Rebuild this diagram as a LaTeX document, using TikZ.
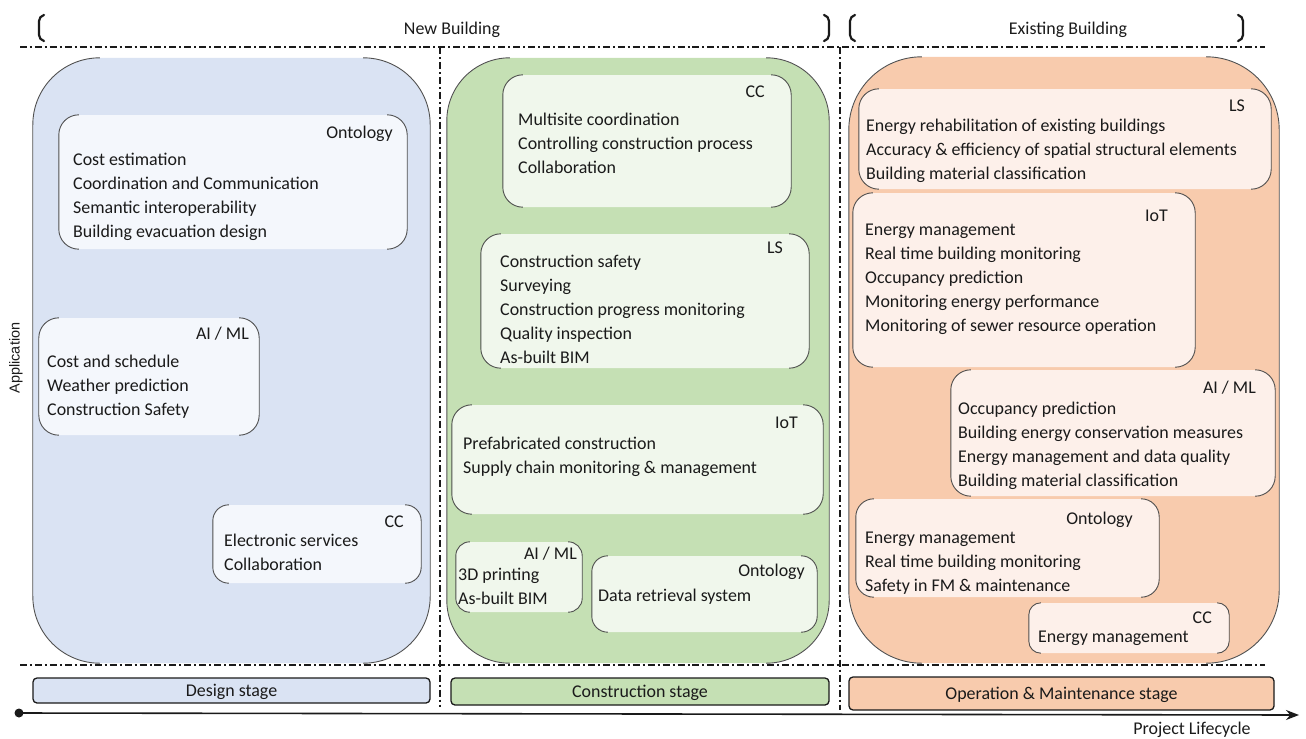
\documentclass[tikz,border=0pt]{standalone}
\usepackage{fontspec}
\setmainfont{Carlito}
\newfontfamily\appfont{Liberation Sans}
\usetikzlibrary{fit,arrows.meta}
\definecolor{bluebg}{HTML}{DAE3F3}
\definecolor{bluein}{HTML}{F4F7FC}
\definecolor{greenbg}{HTML}{C5E0B4}
\definecolor{greenin}{HTML}{F0F7EC}
\definecolor{orangebg}{HTML}{F8CBAD}
\definecolor{orangein}{HTML}{FDF0EA}
\definecolor{ink}{HTML}{1A1A1A}
\definecolor{edge}{HTML}{505050}
\tikzset{
  txt/.style={inner sep=0pt, font=\fontsize{18}{21}\selectfont, text=ink},
  brk/.style={draw=edge, line width=0.9pt},
  ddline/.style={draw=ink, line width=1.3pt, dash pattern=on 7pt off 3pt on 2pt off 3pt},
  stagebar/.style={draw=ink, line width=1.3pt, rounded corners=4bp, inner sep=0pt},
  topbrk/.style={draw=ink, line width=2.2pt, rounded corners=5bp, line cap=round},
}
\newcommand\bracketbox[7]{%
  \node[fit={(#2,#3) (#4,#5)}, inner sep=0pt, fill=#7, rounded corners=#6bp] (#1) {};
  \draw[brk, rounded corners=#6bp] ([xshift=#6bp]#1.north west) -- (#1.north west) -- (#1.south west) -- ([xshift=#6bp]#1.south west);
  \draw[brk, rounded corners=#6bp] ([xshift=-#6bp]#1.north east) -- (#1.north east) -- (#1.south east) -- ([xshift=-#6bp]#1.south east);
}
\newcommand\boxlabel[4]{\node[txt, anchor=base east] (#1-lab) at (#2,#3) {#4};}
\newcommand\boxlines[4]{%
  \foreach \t [count=\i from 0] in {#4} {\node[txt, anchor=base west] (#1-\i) at (#2,{#3+24*\i}) {\t};}
}
\begin{document}
\begin{tikzpicture}[x=1bp,y=-1bp]
\useasboundingbox (0,0) rectangle (1306,738);

% top brackets and titles
\draw[topbrk] (44,15) -- (39,16) -- (39,40) -- (44,41);
\draw[topbrk] (824,15) -- (829,16) -- (829,40) -- (824,41);
\draw[topbrk] (855,15) -- (850,16) -- (850,40) -- (855,41);
\draw[topbrk] (1238,15) -- (1243,16) -- (1243,40) -- (1238,41);
\node[txt, anchor=base] (newb) at (452,35) {New Building};
\node[txt, anchor=base] (exib) at (1068,35) {Existing Building};

% big stage panels
\bracketbox{design}{33}{58}{430}{663}{67}{bluebg}
\bracketbox{constr}{447}{58}{829}{663}{63}{greenbg}
\bracketbox{oper}{849}{57}{1279}{663}{73}{orangebg}

% design stage boxes
\bracketbox{dOnt}{59}{115}{407}{249}{20}{bluein}
\boxlabel{dOnt}{393}{138}{Ontology}
\boxlines{dOnt}{73}{165}{Cost estimation,Coordination and Communication,Semantic interoperability,Building evacuation design}

\bracketbox{dAI}{39}{318}{259}{435}{20}{bluein}
\boxlabel{dAI}{249}{339}{AI / ML}
\boxlines{dAI}{47}{367}{Cost and schedule,Weather prediction,Construction Safety}

\bracketbox{dCC}{213}{505}{421}{583}{16}{bluein}
\boxlabel{dCC}{404}{527}{CC}
\boxlines{dCC}{224}{546}{Electronic services,Collaboration}

% construction stage boxes
\bracketbox{cCC}{503}{75}{791}{207}{20}{greenin}
\boxlabel{cCC}{765}{97}{CC}
\boxlines{cCC}{518}{125}{Multisite coordination,Controlling construction process,Collaboration}

\bracketbox{cLS}{481}{234}{809}{368}{20}{greenin}
\boxlabel{cLS}{783}{253}{LS}
\boxlines{cLS}{500}{267}{Construction safety,Surveying,Construction progress monitoring,Quality inspection,As-built BIM}

\bracketbox{cIoT}{452}{405}{823}{514}{20}{greenin}
\boxlabel{cIoT}{798}{428}{IoT}
\boxlines{cIoT}{463}{449}{Prefabricated construction,Supply chain monitoring \& management}

\bracketbox{cAI}{456}{542}{582}{612}{14}{greenin}
\boxlabel{cAI}{577}{559}{AI / ML}
\boxlines{cAI}{458}{580}{3D printing,As-built BIM}

\bracketbox{cOnt}{592}{556}{817}{632}{16}{greenin}
\boxlabel{cOnt}{805}{576}{Ontology}
\boxlines{cOnt}{598}{601}{Data retrieval system}

% operation stage boxes
\bracketbox{oLS}{859}{89}{1271}{189}{20}{orangein}
\boxlabel{oLS}{1245}{111}{LS}
\boxlines{oLS}{866}{131}{Energy rehabilitation of existing buildings,Accuracy \& efficiency of spatial structural elements,Building material classification}

\bracketbox{oIoT}{853}{193}{1195}{367}{20}{orangein}
\boxlabel{oIoT}{1168}{221}{IoT}
\boxlines{oIoT}{865}{235}{Energy management,Real time building monitoring,Occupancy prediction,Monitoring energy performance,Monitoring of sewer resource operation}

\bracketbox{oAI}{951}{370}{1275}{496}{20}{orangein}
\boxlabel{oAI}{1256}{393}{AI / ML}
\boxlines{oAI}{958}{414}{Occupancy prediction,Building energy conservation measures,Energy management and data quality,Building material classification}

\bracketbox{oOnt}{856}{499}{1159}{597}{18}{orangein}
\boxlabel{oOnt}{1133}{524}{Ontology}
\boxlines{oOnt}{865}{543}{Energy management,Real time building monitoring,Safety in FM \& maintenance}

\bracketbox{oCC}{1029}{603}{1229}{653}{12}{orangein}
\boxlabel{oCC}{1212}{623}{CC}
\boxlines{oCC}{1038}{642}{Energy management}

% dash-dot separators
\draw[ddline] (20,47) -- (1265,47);
\draw[ddline] (20,665) -- (1265,665);
\draw[ddline] (440,47) -- (440,707);
\draw[ddline] (840,47) -- (840,710);

% stage bars
\node[stagebar, fill=bluebg, fit={(33,678) (430,703)}] (sDesign) {};
\node[txt, anchor=base] (tDesign) at ([yshift=-6bp]sDesign.center) {Design stage};
\node[stagebar, fill=greenbg, fit={(451,678) (829,705)}] (sConstr) {};
\node[txt, anchor=base] (tConstr) at ([yshift=-6bp]sConstr.center) {Construction stage};
\node[stagebar, fill=orangebg, fit={(849,677) (1274,710)}] (sOper) {};
\node[txt, anchor=base] (tOper) at ([yshift=-6bp]sOper.center) {Operation \& Maintenance stage};

% lifecycle axis
\coordinate (ax0) at (19,713);
\coordinate (ax1) at (1299,715);
\fill[ink] (ax0) circle (4.5);
\draw[ink, line width=1.6pt, -{Stealth[length=13bp,width=10bp]}] (ax0) -- (ax1);
\node[txt, anchor=base] (plc) at (1192,734) {Project Lifecycle};

% application label
\node[inner sep=0pt, font=\appfont\fontsize{14.5}{16}\selectfont, text=ink, rotate=90] (app) at (16,358) {Application};
\end{tikzpicture}
\end{document}
